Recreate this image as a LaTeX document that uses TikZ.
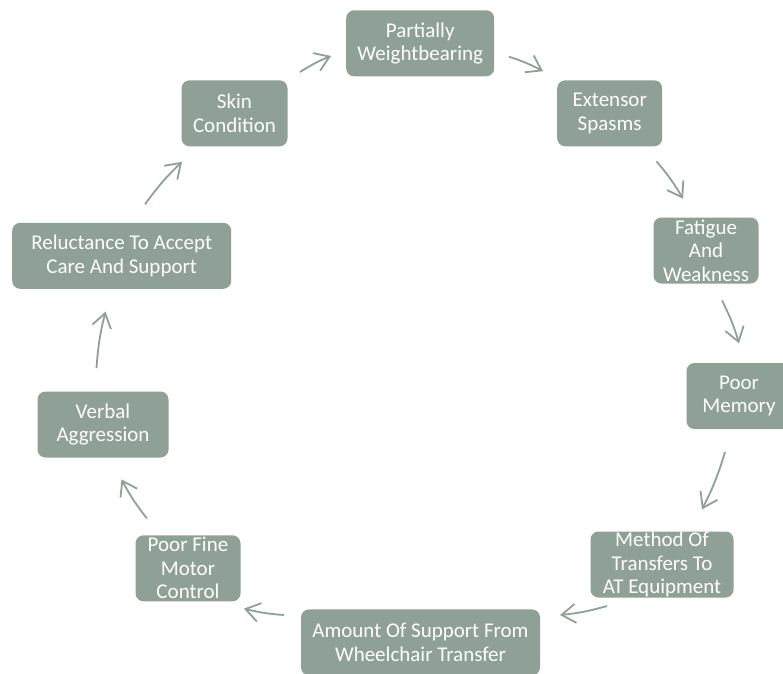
\documentclass[tikz,border=0pt]{standalone}
\usepackage{fontspec}
\setmainfont{Carlito}
\usetikzlibrary{arrows.meta}
\definecolor{sage}{RGB}{143,160,150}
\begin{document}
\begin{tikzpicture}[x=1pt,y=-1pt,
  box/.style={fill=sage, rounded corners=8pt, inner sep=0pt, align=center,
    text=white, font=\fontsize{21}{23.5}\selectfont, minimum height=66pt},
  cyc/.style={draw=sage, line width=1.8pt,
    -{Straight Barb[length=14pt,width=19pt]}}]
  \clip (0,0) rectangle (783,673);

  % cycle stages
  \node[box, minimum width=148pt] (pw)  at (420.2,43.3)  {Partially\\Weightbearing};
  \node[box, minimum width=105pt] (es)  at (609.7,113.3) {Extensor\\Spasms};
  \node[box, minimum width=105pt] (fw)  at (706,250.5)   {Fatigue\\And\\Weakness};
  \node[box, minimum width=105pt] (pm)  at (739,396)     {Poor\\Memory};
  \node[box, minimum width=143pt] (mt)  at (662,564.5)   {Method Of\\Transfers To\\AT Equipment};
  \node[box, minimum width=239pt] (as)  at (420.5,642.4) {Amount Of Support From\\Wheelchair Transfer};
  \node[box, minimum width=105pt] (fm)  at (188,568.3)   {Poor Fine\\Motor\\Control};
  \node[box, minimum width=131pt] (va)  at (103,424.5)   {Verbal\\Aggression};
  \node[box, minimum width=219pt] (rc)  at (121.7,255.8) {Reluctance To Accept\\Care And Support};
  \node[box, minimum width=106pt] (sc)  at (234.5,113.3) {Skin\\Condition};

  % arrow ends between neighbouring stages
  \coordinate (a1) at (300,72);     \coordinate (b1) at (331,56);
  \coordinate (a2) at (509,56.7);   \coordinate (b2) at (543,71.2);
  \coordinate (a3) at (656.5,161.4);\coordinate (b3) at (683,198.7);
  \coordinate (a4) at (722,300.4);  \coordinate (b4) at (739,343.3);
  \coordinate (a5) at (725,452);    \coordinate (b5) at (702,509.4);
  \coordinate (a6) at (607,606);    \coordinate (b6) at (560,615);
  \coordinate (a7) at (284,615);    \coordinate (b7) at (244,608.6);
  \coordinate (a8) at (147,518.5);  \coordinate (b8) at (121.5,479.4);
  \coordinate (a9) at (96.5,368.2); \coordinate (b9) at (105.5,311.6);
  \coordinate (a10) at (145,204.3); \coordinate (b10) at (182,161.8);

  \foreach \i in {1,...,10}
    \draw[cyc] (a\i) to[bend left=5] (b\i);
\end{tikzpicture}
\end{document}
